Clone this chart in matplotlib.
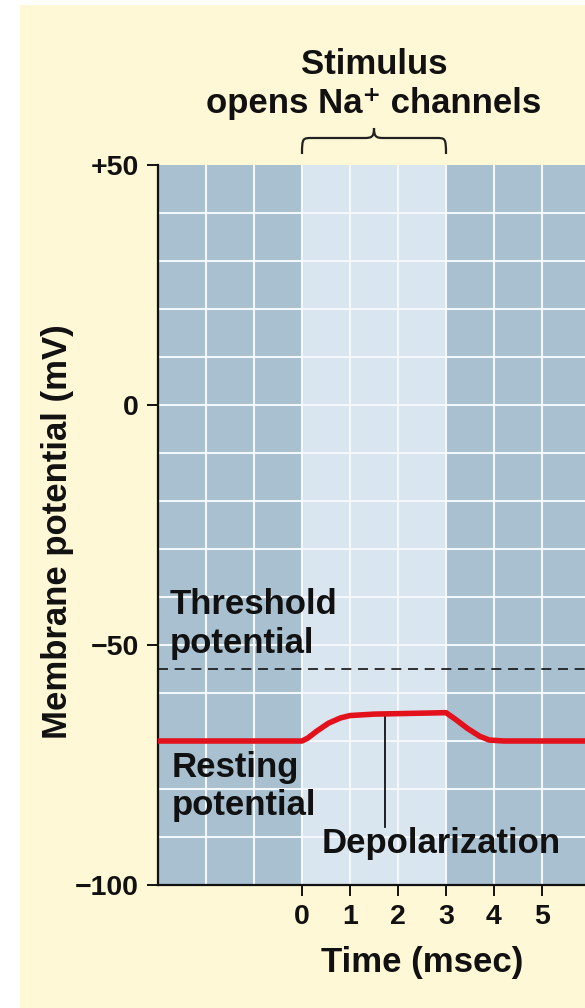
import numpy as np
import matplotlib
matplotlib.use("Agg")
import matplotlib.pyplot as plt
from matplotlib.path import Path
from matplotlib.patches import PathPatch, Rectangle

# ---- data ----
time_ms = [-3.0, 0.0, 0.12, 0.3, 0.55, 0.8, 1.0, 1.5, 2.0, 2.5, 3.0, 3.2, 3.45, 3.7, 3.9, 4.2, 5.9]
potential_mv = [-70, -70, -69.4, -68.0, -66.3, -65.2, -64.7, -64.4, -64.3, -64.2, -64.1, -65.5, -67.4, -69.0, -69.8, -70, -70]
stim_start, stim_end = 0, 3
threshold_mv = -55
resting_mv = -70
depol_time = 1.73
xtick_vals = [0, 1, 2, 3, 4, 5]
ytick_vals = [50, 0, -50, -100]
ytick_labels = ["+50", "0", "\u221250", "\u2212100"]

W, H = 585, 1008
fig = plt.figure(figsize=(W / 100, H / 100), dpi=100)
fig.patch.set_facecolor("white")
cream = "#fff8d6"
fig.patches.append(Rectangle((20 / W, 0), 1 - 20 / W, (H - 5) / H,
                             transform=fig.transFigure, facecolor=cream,
                             edgecolor="none", zorder=-10))

font = ["Liberation Sans", "DejaVu Sans"]
big = 25
tick_fs = 20.5

x_left = (158 - 302) / 48
x_right = (585 - 302) / 48
ax = fig.add_axes([158 / W, (H - 885) / H, (W - 158) / W, 720 / H])
ax.set_xlim(x_left, x_right)
ax.set_ylim(-100, 50)
ax.set_facecolor("#a8c0d0")
ax.axvspan(stim_start, stim_end, color="#d9e5ef", zorder=0, lw=0)

grid_c = "#f4f8fb"
for gx in np.arange(-2, 6, 1):
    ax.axvline(gx, color=grid_c, lw=1.5, zorder=1)
for gy in np.arange(-90, 50, 10):
    ax.axhline(gy, color=grid_c, lw=1.5, zorder=1)

ax.axhline(threshold_mv, color="#111111", lw=1.2, ls=(0, (6, 4)), zorder=3)
ax.plot(time_ms, potential_mv, color="#e3111b", lw=4.0, solid_capstyle="butt",
        solid_joinstyle="round", zorder=4)
ax.plot([depol_time, depol_time], [-64.3, -88], color="#111111", lw=1.3, zorder=3)

for s in ["top", "right"]:
    ax.spines[s].set_visible(False)
for s in ["left", "bottom"]:
    ax.spines[s].set_linewidth(1.6)
    ax.spines[s].set_color("#111111")

ax.set_xticks(xtick_vals)
ax.set_xticklabels([str(v) for v in xtick_vals])
ax.set_yticks(ytick_vals)
ax.set_yticklabels(ytick_labels)
ax.tick_params(axis="both", direction="out", length=8, width=1.4, color="#111111")
ax.tick_params(axis="y", pad=6)
ax.tick_params(axis="x", pad=6)
for lab in ax.get_xticklabels() + ax.get_yticklabels():
    lab.set_fontfamily(font)
    lab.set_fontweight("bold")
    lab.set_fontsize(tick_fs)
    lab.set_color("#111111")

tkw = dict(fontfamily=font, fontweight="bold", fontsize=big, color="#111111")

# y label
fig.text(58 / W, 1 - 532 / H, "Membrane potential (mV)", rotation=90,
         ha="center", va="center", **tkw)
# x label
ax.text(2.5, -100 - (962 - 885) / 4.8, "Time (msec)", ha="center", va="center",
        clip_on=False, **tkw)

def ypix(p):
    return 50 - (p - 165) / 4.8

# title
ax.text(1.5, ypix(65), "Stimulus", ha="center", va="center", clip_on=False, **tkw)
ax.text(1.5, ypix(103), "opens Na\u207A channels", ha="center", va="center",
        clip_on=False, **tkw)

# annotations
ax.text(x_left + 12 / 48, ypix(605), "Threshold", ha="left", va="center", **tkw)
ax.text(x_left + 12 / 48, ypix(643), "potential", ha="left", va="center", **tkw)
ax.text(x_left + 14 / 48, ypix(768), "Resting", ha="left", va="center", **tkw)
ax.text(x_left + 14 / 48, ypix(805), "potential", ha="left", va="center", **tkw)
ax.text((322 - 302) / 48, ypix(843), "Depolarization", ha="left", va="center", **tkw)

# brace
y0, y1, y2 = ypix(154), ypix(138), ypix(128)
xm = (stim_start + stim_end) / 2
dx = 0.2
verts = [
    (stim_start, y0),
    (stim_start, y1), (stim_start + 0.02, y1), (stim_start + dx, y1),
    (xm - dx, y1),
    (xm - 0.05, y1), (xm, y1 + 0.2), (xm, y2),
    (xm, y1 + 0.2), (xm + 0.05, y1), (xm + dx, y1),
    (stim_end - dx, y1),
    (stim_end - 0.02, y1), (stim_end, y1), (stim_end, y0),
]
codes = [Path.MOVETO,
         Path.CURVE4, Path.CURVE4, Path.CURVE4,
         Path.LINETO,
         Path.CURVE4, Path.CURVE4, Path.CURVE4,
         Path.CURVE4, Path.CURVE4, Path.CURVE4,
         Path.LINETO,
         Path.CURVE4, Path.CURVE4, Path.CURVE4]
ax.add_patch(PathPatch(Path(verts, codes), facecolor="none", edgecolor="#222222",
                       lw=1.6, clip_on=False))

fig.savefig("out.png", dpi=100, facecolor=fig.get_facecolor())
